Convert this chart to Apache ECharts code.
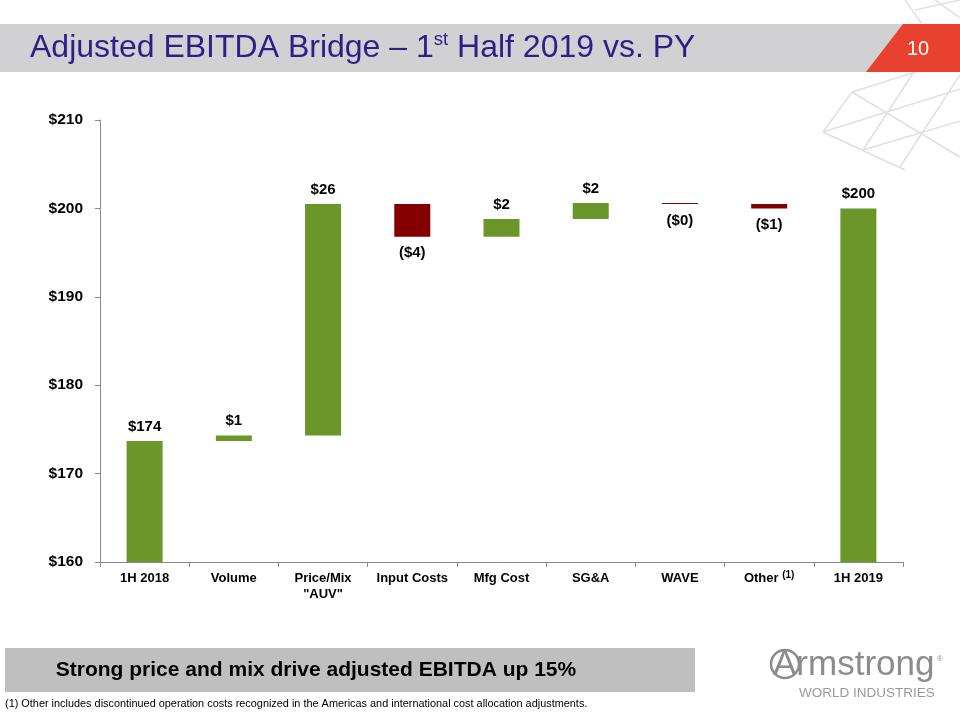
<!DOCTYPE html>
<html><head><meta charset="utf-8">
<script src="https://cdn.jsdelivr.net/npm/echarts@6/dist/echarts.min.js"></script>
<style>html,body{margin:0;padding:0;background:#fff}#c{width:960px;height:720px}</style>
</head><body><div id="c"></div>
<script>
const categories = ['1H 2018', 'Volume', 'Price/Mix\n"AUV"', 'Input Costs', 'Mfg Cost', 'SG&A', 'WAVE', 'Other', '1H 2019'];
const startValue = 173.7;
const changes = [0.6, 26.2, -3.7, 2.0, 1.8, -0.1, -0.5];
const endValue = 200.0;
const yMin = 160, yMax = 210, yStep = 10;

const GREEN = '#6A962A', RED = '#840000';
const fmt = v => v < 0 ? '($' + Math.round(-v) + ')' : '$' + Math.round(v);

// build waterfall stack arrays
const base = [0], pos = [startValue], neg = ['-'], labels = [fmt(startValue)];
let run = startValue;
changes.forEach(d => {
  if (d >= 0) { base.push(run); pos.push(d); neg.push('-'); run += d; }
  else { run += d; base.push(run); pos.push('-'); neg.push(-d); }
  labels.push(fmt(d));
});
base.push(0); pos.push(endValue); neg.push('-'); labels.push(fmt(endValue));

const FONT = 'Liberation Sans, Arial, sans-serif';
const lineStyle = { stroke: '#E0E0E0', lineWidth: 1.5 };
const deco = [
  [823,132,852,92],[852,92,960,58],[852,92,960,157],[823,132,960,89],[823,132,905,170],
  [863,150,925,55],[900,167,960,75],[863,150,960,121],[905,0,922,24],[935,0,960,18],[915,10,960,0]
].map(p => ({ type: 'line', shape: { x1: p[0], y1: p[1], x2: p[2], y2: p[3] }, style: lineStyle, z: 0 }));

const chart = echarts.init(document.getElementById('c'), null, { renderer: 'canvas' });
chart.setOption({
  backgroundColor: '#fff',
  animation: false,
  grid: { left: 100, right: 57, top: 120, bottom: 158, containLabel: false },
  xAxis: {
    type: 'category', data: categories,
    axisLine: { lineStyle: { color: '#888', width: 1 } },
    axisTick: { show: true, length: 5, lineStyle: { color: '#888' } },
    axisLabel: {
      interval: 0, margin: 8, color: '#000', fontFamily: FONT, fontWeight: 'bold', fontSize: 13, lineHeight: 16,
      formatter: v => v === 'Other' ? '{n|Other} {s|(1)}' : v,
      rich: { n: { fontFamily: FONT, fontWeight: 'bold', fontSize: 13, color: '#000' },
              s: { fontFamily: FONT, fontSize: 10, color: '#000', verticalAlign: 'top', padding: [0, 0, 6, 0] } }
    }
  },
  yAxis: {
    type: 'value', min: yMin, max: yMax, interval: yStep,
    splitLine: { show: false },
    axisLine: { show: true, lineStyle: { color: '#888', width: 1 } },
    axisTick: { show: true, length: 5, lineStyle: { color: '#888' } },
    axisLabel: { color: '#000', fontFamily: FONT, fontWeight: 'bold', fontSize: 15.5, margin: 17, formatter: v => '$' + v }
  },
  series: [
    { type: 'bar', stack: 'w', data: base, barWidth: 36, itemStyle: { color: 'transparent' }, silent: true },
    { type: 'bar', stack: 'w', data: pos, barWidth: 36, itemStyle: { color: GREEN },
      label: { show: true, position: 'top', distance: 7, color: '#000', fontFamily: FONT, fontWeight: 'bold', fontSize: 15,
               formatter: p => labels[p.dataIndex] } },
    { type: 'bar', stack: 'w', data: neg, barWidth: 36, itemStyle: { color: RED },
      label: { show: true, position: 'bottom', distance: 9, color: '#000', fontFamily: FONT, fontWeight: 'bold', fontSize: 15,
               formatter: p => labels[p.dataIndex] } }
  ],
  graphic: [
    ...deco,
    { type: 'rect', shape: { x: 0, y: 24, width: 920, height: 48 }, style: { fill: '#D1D1D3' }, z: 1 },
    { type: 'polygon', shape: { points: [[903,24],[960,24],[960,72],[866,72]] }, style: { fill: '#E8412F' }, z: 2 },
    { type: 'text', x: 30, y: 48, z: 3, style: {
        text: '{a|Adjusted EBITDA Bridge – 1}{s|st}{a| Half 2019 vs. PY}', verticalAlign: 'middle',
        rich: { a: { fontFamily: FONT, fontSize: 32, fill: '#2E1E86', lineHeight: 36 },
                s: { fontFamily: FONT, fontSize: 18.5, fill: '#2E1E86', verticalAlign: 'top', lineHeight: 36, padding: [0,0,14,0] } } } },
    { type: 'text', x: 918, y: 49, z: 3, style: { text: '10', fill: '#fff', fontFamily: FONT, fontSize: 20, align: 'center', verticalAlign: 'middle' } },
    { type: 'rect', shape: { x: 5, y: 648, width: 690, height: 44 }, style: { fill: '#BFBFBF' }, z: 1 },
    { type: 'text', x: 316, y: 670, z: 3, style: { text: 'Strong price and mix drive adjusted EBITDA up 15%', fill: '#000', fontFamily: FONT, fontWeight: 'bold', fontSize: 21, align: 'center', verticalAlign: 'middle' } },
    { type: 'text', x: 5, y: 704, z: 3, style: { text: '(1) Other includes discontinued operation costs recognized in the Americas and international cost allocation adjustments.', fill: '#000', fontFamily: FONT, fontSize: 10.9, verticalAlign: 'middle' } },
    { type: 'circle', shape: { cx: 785, cy: 664, r: 14 }, style: { fill: 'none', stroke: '#8C8C8C', lineWidth: 2.5 }, z: 3 },
    { type: 'text', x: 773, y: 665, z: 3, style: { text: 'Armstrong', fill: '#8C8C8C', fontFamily: FONT, fontSize: 35, verticalAlign: 'middle' } },
    { type: 'text', x: 937, y: 659, z: 3, style: { text: '®', fill: '#8C8C8C', fontFamily: FONT, fontSize: 8, verticalAlign: 'middle' } },
    { type: 'text', x: 867, y: 693, z: 3, style: { text: 'WORLD INDUSTRIES', fill: '#9A9A9A', fontFamily: FONT, fontSize: 13.5, align: 'center', verticalAlign: 'middle' } }
  ]
});
</script></body></html>
